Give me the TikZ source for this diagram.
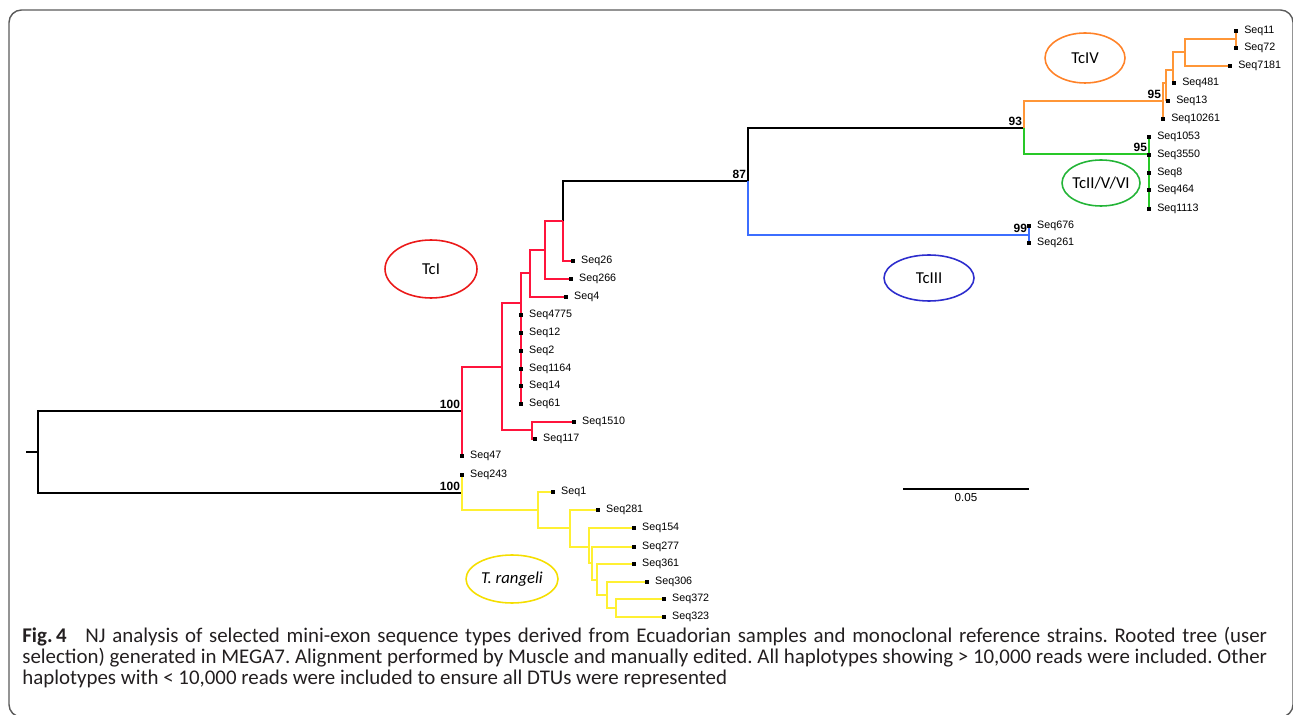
\documentclass[tikz,border=0pt]{standalone}
\usepackage{fontspec}
\setmainfont{Liberation Sans}
\newfontfamily\capfont{Carlito}
\usetikzlibrary{positioning,backgrounds}
\frenchspacing

\definecolor{tcIcol}{RGB}{255,20,60}
\definecolor{tcIVcol}{RGB}{255,150,55}
\definecolor{tcIIcol}{RGB}{40,200,40}
\definecolor{tcIIIcol}{RGB}{60,110,255}
\definecolor{trcol}{RGB}{255,240,50}
\definecolor{ringI}{RGB}{235,25,25}
\definecolor{ringIV}{RGB}{255,130,40}
\definecolor{ringII}{RGB}{35,180,55}
\definecolor{ringIII}{RGB}{45,45,205}
\definecolor{ringR}{RGB}{245,222,0}
\definecolor{framecol}{RGB}{90,90,90}
\definecolor{captext}{RGB}{35,31,32}

\begin{document}
\begin{tikzpicture}[x=0.02cm,y=-0.02cm]
        \tikzstyle{every node}=[font=\fontsize{6.1}{7}\selectfont]
        \tikzstyle{leaf}=[rectangle,fill=black,inner sep=0pt,minimum size=1.9pt,label distance=2.2pt]
        \tikzstyle{boot}=[font=\fontsize{6.8}{8}\selectfont\bfseries,inner sep=1pt,anchor=south east]
        \tikzstyle{branch}=[line width=1.1pt]
        \tikzstyle{dtu}=[font=\capfont\fontsize{9.5}{11}\selectfont,inner sep=0pt]
        \tikzstyle{ring}=[line width=0.9pt]
        \tikzstyle{capline}=[anchor=base west,inner sep=0pt,text=captext,font=\capfont\fontsize{11.9}{13}\selectfont]
        \useasboundingbox (0,0) rectangle (1293,715);

        %%% frame
        \draw[framecol,line width=0.8pt,rounded corners=0.25cm] (9,10) rectangle (1293,717);

        %%% internal nodes
        \coordinate (rt) at (26,452);
        \coordinate (root) at (38,452);
        \coordinate (na) at (462,411);
        \coordinate (nb) at (502,367);
        \coordinate (nc) at (521,303);
        \coordinate (nd) at (532,430);
        \coordinate (ne) at (530,273);
        \coordinate (nf) at (545,250);
        \coordinate (ng) at (563,221);
        \coordinate (nh) at (748,181);
        \coordinate (ni) at (1024,128);
        \coordinate (nj) at (1029,235);
        \coordinate (nk) at (1163,101);
        \coordinate (nl) at (1149,154);
        \coordinate (nm) at (1166,83);
        \coordinate (nn) at (1173,70);
        \coordinate (no) at (1185,52);
        \coordinate (np) at (1236,39);
        \coordinate (nq) at (462,493);
        \coordinate (nr) at (538,510);
        \coordinate (nt) at (570,528);
        \coordinate (nu) at (589,547);
        \coordinate (nv) at (592,563);
        \coordinate (nw) at (597,580);
        \coordinate (nx) at (607,595);
        \coordinate (ny) at (616,608);

        %%% leaves
        \node[leaf,label=right:Seq11] (s11) at (1236,31) {};
        \node[leaf,label=right:Seq72] (s72) at (1236,48) {};
        \node[leaf,label=right:Seq7181] (s7181) at (1230,66) {};
        \node[leaf,label=right:Seq481] (s481) at (1174,83) {};
        \node[leaf,label=right:Seq13] (s13) at (1168,101) {};
        \node[leaf,label=right:Seq10261] (s10261) at (1163,119) {};
        \node[leaf,label=right:Seq1053] (s1053) at (1149,137) {};
        \node[leaf,label=right:Seq3550] (s3550) at (1149,155) {};
        \node[leaf,label=right:Seq8] (s8) at (1149,173) {};
        \node[leaf,label=right:Seq464] (s464) at (1149,190) {};
        \node[leaf,label=right:Seq1113] (s1113) at (1149,209) {};
        \node[leaf,label=right:Seq676] (s676) at (1029,226) {};
        \node[leaf,label=right:Seq261] (s261) at (1029,243) {};
        \node[leaf,label=right:Seq26] (s26) at (573,261) {};
        \node[leaf,label=right:Seq266] (s266) at (571,279) {};
        \node[leaf,label=right:Seq4] (s4) at (566,297) {};
        \node[leaf,label=right:Seq4775] (s4775) at (521,315) {};
        \node[leaf,label=right:Seq12] (s12) at (521,333) {};
        \node[leaf,label=right:Seq2] (s2) at (521,351) {};
        \node[leaf,label=right:Seq1164] (s1164) at (521,369) {};
        \node[leaf,label=right:Seq14] (s14) at (521,386) {};
        \node[leaf,label=right:Seq61] (s61) at (521,404) {};
        \node[leaf,label=right:Seq1510] (s1510) at (574,422) {};
        \node[leaf,label=right:Seq117] (s117) at (535,439) {};
        \node[leaf,label=right:Seq47] (s47) at (462,456) {};
        \node[leaf,label=right:Seq243] (s243) at (462,475) {};
        \node[leaf,label=right:Seq1] (s1) at (553,492) {};
        \node[leaf,label=right:Seq281] (s281) at (598,510) {};
        \node[leaf,label=right:Seq154] (s154) at (634,528) {};
        \node[leaf,label=right:Seq277] (s277) at (634,547) {};
        \node[leaf,label=right:Seq361] (s361) at (634,564) {};
        \node[leaf,label=right:Seq306] (s306) at (647,582) {};
        \node[leaf,label=right:Seq372] (s372) at (664,599) {};
        \node[leaf,label=right:Seq323] (s323) at (664,617) {};

        \begin{pgfonlayer}{background}
        %%% backbone
        \draw[branch] (rt) -- (root);
        \draw[branch] (root) |- (na);
        \draw[branch] (root) |- (nq);
        \draw[branch] (ng) |- (nh);
        \draw[branch] (nh) |- (ni);

        %%% TcI
        \draw[branch,tcIcol] (na) |- (nb);
        \draw[branch,tcIcol] (na) -- (s47.center);
        \draw[branch,tcIcol] (nb) |- (nc);
        \draw[branch,tcIcol] (nb) |- (nd);
        \draw[branch,tcIcol] (nc) |- (ne);
        \draw[branch,tcIcol] (nc) -- (s61.center);
        \draw[branch,tcIcol] (ne) |- (nf);
        \draw[branch,tcIcol] (ne) |- (s4);
        \draw[branch,tcIcol] (nf) |- (ng);
        \draw[branch,tcIcol] (nf) |- (s266);
        \draw[branch,tcIcol] (ng) |- (s26);
        \draw[branch,tcIcol] (nd) |- (s1510);
        \draw[branch,tcIcol] (nd) |- (s117);

        %%% TcIII
        \draw[branch,tcIIIcol] (nh) |- (nj);
        \draw[branch,tcIIIcol] (nj) -- (s676.center);
        \draw[branch,tcIIIcol] (nj) -- (s261.center);

        %%% TcIV
        \draw[branch,tcIVcol] (ni) |- (nk);
        \draw[branch,tcIVcol] (nk) -- (s10261.center);
        \draw[branch,tcIVcol] (nk) |- (nm);
        \draw[branch,tcIVcol] (nm) |- (s13);
        \draw[branch,tcIVcol] (nm) |- (nn);
        \draw[branch,tcIVcol] (nn) |- (s481);
        \draw[branch,tcIVcol] (nn) |- (no);
        \draw[branch,tcIVcol] (no) |- (np);
        \draw[branch,tcIVcol] (no) |- (s7181);
        \draw[branch,tcIVcol] (np) -- (s11.center);
        \draw[branch,tcIVcol] (np) -- (s72.center);

        %%% TcII/V/VI
        \draw[branch,tcIIcol] (ni) |- (nl);
        \draw[branch,tcIIcol] (nl) -- (s1053.center);
        \draw[branch,tcIIcol] (nl) -- (s1113.center);

        %%% T. rangeli
        \draw[branch,trcol] (nq) -- (s243.center);
        \draw[branch,trcol] (nq) |- (nr);
        \draw[branch,trcol] (nr) |- (s1);
        \draw[branch,trcol] (nr) |- (nt);
        \draw[branch,trcol] (nt) |- (s281);
        \draw[branch,trcol] (nt) |- (nu);
        \draw[branch,trcol] (nu) |- (s154);
        \draw[branch,trcol] (nu) |- (nv);
        \draw[branch,trcol] (nv) |- (s277);
        \draw[branch,trcol] (nv) |- (nw);
        \draw[branch,trcol] (nw) |- (s361);
        \draw[branch,trcol] (nw) |- (nx);
        \draw[branch,trcol] (nx) |- (s306);
        \draw[branch,trcol] (nx) |- (ny);
        \draw[branch,trcol] (ny) |- (s372);
        \draw[branch,trcol] (ny) |- (s323);
        \end{pgfonlayer}

        %%% bootstrap values
        \node[boot] (b100a) at (na) {100};
        \node[boot] (b100q) at (nq) {100};
        \node[boot] (b87) at (nh) {87};
        \node[boot] (b93) at (ni) {93};
        \node[boot] (b95o) at (nk) {95};
        \node[boot] (b95g) at (nl) {95};
        \node[boot] (b99) at (nj) {99};

        %%% DTU rings
        \node[dtu] (tcI) at (431,269) {TcI};
        \draw[ring,ringI] (tcI) ellipse [x radius=0.92cm, y radius=0.58cm];
        \node[dtu] (tcIII) at (929,278) {TcIII};
        \draw[ring,ringIII] (tcIII) ellipse [x radius=0.9cm, y radius=0.46cm];
        \node[dtu] (tcIV) at (1085,58) {TcIV};
        \draw[ring,ringIV] (tcIV) ellipse [x radius=0.8cm, y radius=0.5cm];
        \node[dtu] (tcII) at (1101,183) {TcII/V/VI};
        \draw[ring,ringII] (tcII) ellipse [x radius=0.78cm, y radius=0.46cm];
        \node[dtu,font=\capfont\itshape\fontsize{9.5}{11}\selectfont] (trang) at (512,579) {T. rangeli};
        \draw[ring,ringR] (trang) ellipse [x radius=0.92cm, y radius=0.48cm];

        %%% scale bar
        \coordinate (sb1) at (903,489);
        \coordinate (sb2) at (1029,489);
        \draw[branch] (sb1) -- node[below,inner sep=2pt,font=\fontsize{6.6}{8}\selectfont] (sblab) {0.05} (sb2);

        %%% caption
        \node[capline] (cap1) at (22,642) {\makebox[24.9cm][s]{\textbf{Fig.\,4}\hspace{0.9em}NJ analysis of selected mini-exon sequence types derived from Ecuadorian samples and monoclonal reference strains. Rooted tree (user}};
        \node[capline] (cap2) at (22,663) {\makebox[24.9cm][s]{selection) generated in MEGA7. Alignment performed by Muscle and manually edited. All haplotypes showing > 10,000 reads were included. Other}};
        \node[capline] (cap3) at (22,684) {haplotypes with < 10,000 reads were included to ensure all DTUs were represented};
\end{tikzpicture}
\end{document}
